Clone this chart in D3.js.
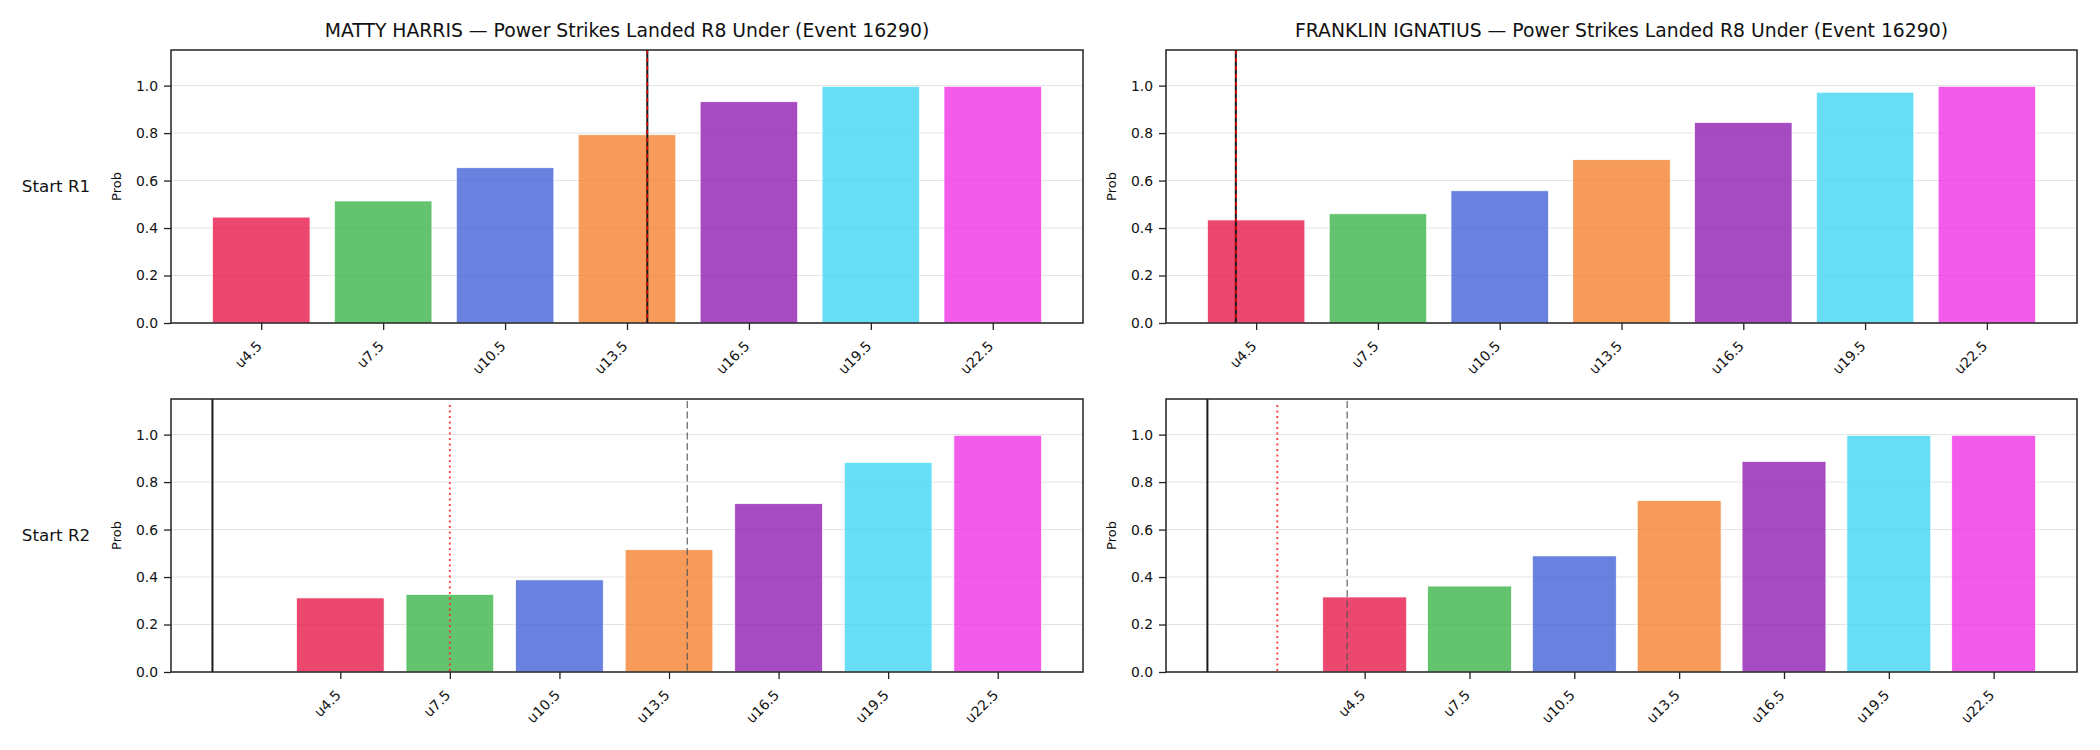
<!DOCTYPE html>
<html>
<head>
<meta charset="utf-8">
<script src="https://cdn.jsdelivr.net/npm/d3@7"></script>
<style>
  html, body { margin: 0; padding: 0; background: #fff; }
  svg { display: block; font-family: "DejaVu Sans", sans-serif; }
</style>
</head>
<body>
<svg id="chart" width="2100" height="750"></svg>
<script>
// ---------------- data ----------------
const categories = ["u4.5", "u7.5", "u10.5", "u13.5", "u16.5", "u19.5", "u22.5"];
const thresholds = [4.5, 7.5, 10.5, 13.5, 16.5, 19.5, 22.5];
const barColors = ["#e6194b", "#3cb44b", "#4363d8", "#f58231", "#911eb4", "#42d4f4", "#f032e6"];

const fighters = ["MATTY HARRIS", "FRANKLIN IGNATIUS"];
const rowLabels = ["Start R1", "Start R2"];
const titleSuffix = " — Power Strikes Landed R8 Under (Event 16290)";

const harrisR1   = [0.446, 0.514, 0.654, 0.793, 0.932, 0.997, 0.997];
const franklinR1 = [0.434, 0.460, 0.557, 0.688, 0.845, 0.972, 0.997];
const harrisR2   = [0.312, 0.327, 0.388, 0.515, 0.709, 0.883, 0.997];
const franklinR2 = [0.316, 0.362, 0.489, 0.722, 0.887, 0.997, 0.997];

// reference lines (in strike-count units): current (black), red marker, gray dashed
const currentLine = [[14, 4], [1, 0]];
const redLine     = [[14, 4], [7.5, 2]];
const grayLine    = [[14, 4], [14, 4]];

const yTicks = [0, 0.2, 0.4, 0.6, 0.8, 1.0];

// ---------------- layout ----------------
const svg = d3.select("#chart");
const colX = [[171, 1083], [1166, 2077]];
const rowY = [[50, 323], [399, 672]];
const values = [[harrisR1, franklinR1], [harrisR2, franklinR2]];

const toIndex = v => (v - thresholds[0]) / (thresholds[1] - thresholds[0]);

for (let r = 0; r < 2; r++) {
  for (let c = 0; c < 2; c++) {
    const [x0, x1] = colX[c];
    const [yTop, yBot] = rowY[r];
    const vals = values[r][c];
    const lineIdx = [currentLine[r][c], redLine[r][c], grayLine[r][c]].map(toIndex);

    // x data limits like matplotlib autoscale with 5% margin
    let dmin = Math.min(-0.4, ...lineIdx);
    let dmax = Math.max(6.4, ...lineIdx);
    const m = (dmax - dmin) * 0.05;
    const x = d3.scaleLinear().domain([dmin - m, dmax + m]).range([x0, x1]);
    const y = d3.scaleLinear().domain([0, 1.15]).range([yBot, yTop]);

    const g = svg.append("g");

    // grid
    g.selectAll("line.grid").data(yTicks).enter().append("line")
      .attr("x1", x0).attr("x2", x1)
      .attr("y1", d => y(d)).attr("y2", d => y(d))
      .attr("stroke", "#e3e3e3").attr("stroke-width", 1);

    // bars
    g.selectAll("rect.bar").data(vals).enter().append("rect")
      .attr("x", (d, i) => x(i - 0.4))
      .attr("width", (d, i) => x(i + 0.4) - x(i - 0.4))
      .attr("y", d => y(d))
      .attr("height", d => y(0) - y(d))
      .attr("fill", (d, i) => barColors[i])
      .attr("fill-opacity", 0.8)
      .attr("stroke", "#ffffff").attr("stroke-width", 0.7);

    // vertical reference lines
    const xc = x(toIndex(currentLine[r][c]));
    const xr = x(toIndex(redLine[r][c]));
    const xg = x(toIndex(grayLine[r][c]));
    if (r === 0) {
      g.append("line").attr("x1", xg).attr("x2", xg).attr("y1", yTop).attr("y2", yBot)
        .attr("stroke", "#555").attr("stroke-width", 1.3).attr("stroke-dasharray", "6,4");
      g.append("line").attr("x1", xc).attr("x2", xc).attr("y1", yTop).attr("y2", yBot)
        .attr("stroke", "#1a1a1a").attr("stroke-width", 2);
      g.append("line").attr("x1", xr).attr("x2", xr).attr("y1", yTop).attr("y2", yBot)
        .attr("stroke", "#e00000").attr("stroke-width", 1.6).attr("stroke-dasharray", "4,4");
    } else {
      g.append("line").attr("x1", xc).attr("x2", xc).attr("y1", yTop).attr("y2", yBot)
        .attr("stroke", "#1a1a1a").attr("stroke-width", 2);
      g.append("line").attr("x1", xr).attr("x2", xr).attr("y1", yTop + 6).attr("y2", yBot)
        .attr("stroke", "#ff2a2a").attr("stroke-opacity", 0.85).attr("stroke-width", 2)
        .attr("stroke-dasharray", "2,3.5");
      g.append("line").attr("x1", xg).attr("x2", xg).attr("y1", yTop + 2).attr("y2", yBot)
        .attr("stroke", "#555").attr("stroke-opacity", 0.85).attr("stroke-width", 1.3)
        .attr("stroke-dasharray", "7,3.5");
    }

    // frame
    g.append("rect").attr("x", x0).attr("y", yTop).attr("width", x1 - x0).attr("height", yBot - yTop)
      .attr("fill", "none").attr("stroke", "#222").attr("stroke-width", 1.5);

    // y axis
    const yAxis = d3.axisLeft(y).tickValues(yTicks).tickFormat(d3.format(".1f")).tickSize(7).tickPadding(6);
    const ya = g.append("g").attr("transform", `translate(${x0},0)`).call(yAxis);
    ya.select(".domain").remove();
    ya.selectAll(".tick line").attr("stroke", "#222").attr("stroke-width", 1.3);
    ya.selectAll(".tick text").attr("font-size", "13.9px").attr("fill", "#111")
      .attr("font-family", "DejaVu Sans");

    // x axis
    const xAxis = d3.axisBottom(x).tickValues(d3.range(categories.length))
      .tickFormat(i => categories[i]).tickSize(7).tickPadding(6);
    const xa = g.append("g").attr("transform", `translate(0,${yBot})`).call(xAxis);
    xa.select(".domain").remove();
    xa.selectAll(".tick line").attr("stroke", "#222").attr("stroke-width", 1.3);
    xa.selectAll(".tick text")
      .attr("font-size", "13.9px").attr("fill", "#111").attr("font-family", "DejaVu Sans")
      .attr("text-anchor", "end").attr("dy", null).attr("y", null)
      .attr("transform", "translate(1,24) rotate(-45)");

    // y label
    g.append("text").attr("transform", `translate(${x0 - 50},${(yTop + yBot) / 2}) rotate(-90)`)
      .attr("text-anchor", "middle").attr("font-size", "13px").attr("fill", "#111")
      .text("Prob");

    // title
    if (r === 0) {
      g.append("text").attr("x", (x0 + x1) / 2).attr("y", 37)
        .attr("text-anchor", "middle").attr("font-size", "18.8px").attr("fill", "#111")
        .text(fighters[c] + titleSuffix);
    }
    // row label
    if (c === 0) {
      g.append("text").attr("x", 56).attr("y", (yTop + yBot) / 2 + 5)
        .attr("text-anchor", "middle").attr("font-size", "16.7px").attr("fill", "#111")
        .text(rowLabels[r]);
    }
  }
}
</script>
</body>
</html>
